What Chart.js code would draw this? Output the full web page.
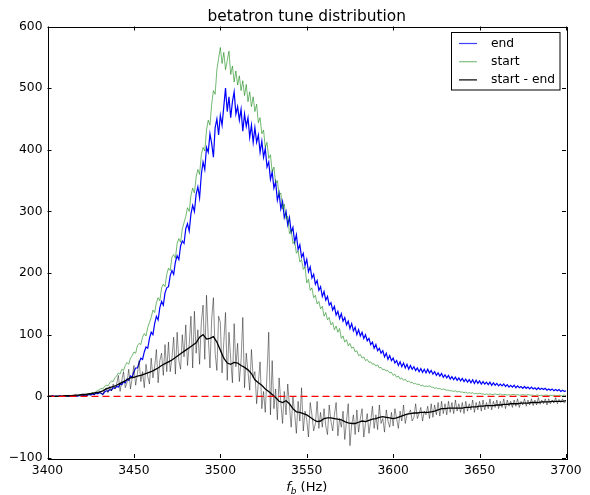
<!DOCTYPE html>
<html>
<head>
<meta charset="utf-8">
<script src="https://cdn.jsdelivr.net/npm/chart.js@4.4.0/dist/chart.umd.min.js"></script>
<style>
  body { margin: 0; background: #fff; }
</style>
</head>
<body>
<canvas id="chart" width="590" height="495"></canvas>
<script>
// frequency bins, 1 Hz (raw histograms)
const freq = [
  3400,3401,3402,3403,3404,3405,3406,3407,3408,3409,
  3410,3411,3412,3413,3414,3415,3416,3417,3418,3419,
  3420,3421,3422,3423,3424,3425,3426,3427,3428,3429,
  3430,3431,3432,3433,3434,3435,3436,3437,3438,3439,
  3440,3441,3442,3443,3444,3445,3446,3447,3448,3449,
  3450,3451,3452,3453,3454,3455,3456,3457,3458,3459,
  3460,3461,3462,3463,3464,3465,3466,3467,3468,3469,
  3470,3471,3472,3473,3474,3475,3476,3477,3478,3479,
  3480,3481,3482,3483,3484,3485,3486,3487,3488,3489,
  3490,3491,3492,3493,3494,3495,3496,3497,3498,3499,
  3500,3501,3502,3503,3504,3505,3506,3507,3508,3509,
  3510,3511,3512,3513,3514,3515,3516,3517,3518,3519,
  3520,3521,3522,3523,3524,3525,3526,3527,3528,3529,
  3530,3531,3532,3533,3534,3535,3536,3537,3538,3539,
  3540,3541,3542,3543,3544,3545,3546,3547,3548,3549,
  3550,3551,3552,3553,3554,3555,3556,3557,3558,3559,
  3560,3561,3562,3563,3564,3565,3566,3567,3568,3569,
  3570,3571,3572,3573,3574,3575,3576,3577,3578,3579,
  3580,3581,3582,3583,3584,3585,3586,3587,3588,3589,
  3590,3591,3592,3593,3594,3595,3596,3597,3598,3599,
  3600,3601,3602,3603,3604,3605,3606,3607,3608,3609,
  3610,3611,3612,3613,3614,3615,3616,3617,3618,3619,
  3620,3621,3622,3623,3624,3625,3626,3627,3628,3629,
  3630,3631,3632,3633,3634,3635,3636,3637,3638,3639,
  3640,3641,3642,3643,3644,3645,3646,3647,3648,3649,
  3650,3651,3652,3653,3654,3655,3656,3657,3658,3659,
  3660,3661,3662,3663,3664,3665,3666,3667,3668,3669,
  3670,3671,3672,3673,3674,3675,3676,3677,3678,3679,
  3680,3681,3682,3683,3684,3685,3686,3687,3688,3689,
  3690,3691,3692,3693,3694,3695,3696,3697,3698,3699,
  3700
];

// "end" distribution (blue)
const endVals = [
  0,0,0,1,0,0,0,1,0,0,
  0,1,0,0,1,0,1,0,1,1,
  1,2,1,2,3,2,4,3,5,4,
  6,5,3,7,9,8,11,10,14,13,
  16,15,20,19,24,22,28,26,33,31,
  40,46,46,54,62,60,72,80,78,94,
  104,100,118,130,124,144,154,148,168,176,
  178,196,204,198,218,228,222,244,252,248,
  272,280,268,296,310,300,328,340,322,360,
  380,368,404,396,426,410,388,436,450,424,
  456,440,470,500,462,486,452,478,494,458,
  470,448,466,430,458,438,452,420,440,412,
  436,412,424,396,414,388,402,372,380,352,
  364,338,348,318,330,304,316,290,300,278,
  290,266,274,250,262,238,246,226,232,212,
  222,202,210,192,198,182,188,172,178,162,
  170,156,162,148,152,140,146,132,138,126,
  134,122,128,116,122,110,118,106,112,100,
  108,98,104,94,100,90,94,84,88,78,
  84,74,78,70,74,64,70,60,66,58,
  62,54,58,50,56,48,54,46,52,44,
  50,44,48,42,46,40,45,39,44,38,
  44,38,42,36,40,34,38,33,37,31,
  35,30,34,28,32,27,31,26,30,25,
  29,24,28,23,27,22,27,21,26,21,
  25,20,24,20,23,19,23,18,22,18,
  21,17,20,17,20,16,19,15,18,15,
  18,14,17,14,16,13,16,13,15,12,
  15,12,14,11,14,11,13,11,13,10,
  12,10,12,9,11,9,11,8,10,8,
  9
];

// "start" distribution (green)
const startVals = [
  0,0,1,0,0,0,1,0,0,1,
  0,1,0,1,1,0,2,1,1,2,
  2,3,2,4,3,5,6,5,8,9,
  11,13,12,16,18,17,22,25,24,30,
  33,38,36,44,42,50,55,52,62,66,
  72,70,82,86,84,96,102,98,112,120,
  128,140,136,152,160,155,176,182,178,198,
  208,204,226,230,224,248,256,250,272,282,
  292,306,300,326,338,330,356,368,360,392,
  404,398,432,448,440,474,496,490,530,548,
  566,540,558,530,545,560,522,536,510,528,
  505,520,496,512,488,506,478,494,470,486,
  462,474,444,452,426,432,404,412,386,392,
  364,372,346,350,326,330,304,312,288,292,
  264,270,248,252,232,236,218,222,206,210,
  184,190,172,176,160,164,150,154,142,146,
  130,136,124,128,116,120,108,114,104,110,
  94,98,88,92,82,86,78,80,72,74,
  66,68,62,64,58,60,55,56,52,53,
  49,51,46,47,43,44,41,42,38,39,
  34,36,31,33,28,30,26,28,24,25,
  22,23,20,21,19,20,17,18,16,17,
  16,17,15,15,13,14,12,13,11,12,
  11,10,10,9,9,8,9,7,8,7,
  7,6,7,5,6,5,6,4,5,4,
  5,4,4,3,4,3,4,3,3,4,
  3,3,4,2,3,3,2,3,2,3,
  3,2,3,2,2,3,2,2,3,2,
  2,2,1,2,2,1,2,1,2,2,
  1,2,1,2,1,1,2,1,1,2,
  1
];

// start - end, raw (grey)
const diffVals = [
  0,0,1,0,0,1,0,0,1,0,
  1,0,1,2,0,1,2,1,2,3,
  3,2,4,1,5,3,6,2,7,4,
  9,5,3,10,14,6,16,9,20,12,
  20,34,8,26,40,14,22,44,12,30,
  50,18,36,58,24,40,14,52,32,20,
  62,30,48,76,22,58,70,34,84,40,
  88,40,62,96,36,104,58,44,100,64,
  116,50,84,130,46,138,70,108,52,120,
  148,60,164,96,46,126,160,70,42,130,
  120,38,88,136,26,104,60,22,118,48,
  86,24,58,128,14,70,40,10,76,30,
  40,-12,22,56,-20,8,-26,36,104,-30,
  58,-20,12,-38,30,-10,-44,8,-30,20,
  -16,-50,0,-28,-60,-8,-40,14,-56,-24,
  -38,-66,-10,-30,-56,-44,-8,-52,-26,-50,
  -20,-48,-62,-14,-40,-56,-30,-10,-64,-36,
  -50,-24,-70,-40,-12,-80,-46,-30,-62,-22,
  -58,-36,-20,-66,-44,-28,-60,-40,-16,-52,
  -30,-54,-14,-44,-36,-58,-22,-40,-50,-26,
  -48,-20,-36,-52,-24,-40,-14,-44,-30,-28,
  -22,-40,-34,-12,-36,-28,-18,-40,-24,-30,
  -16,-36,-12,-34,-14,-30,-10,-32,-8,-28,
  -12,-30,-8,-26,-10,-28,-6,-24,-12,-26,
  -10,-28,-8,-24,-12,-22,-6,-26,-10,-22,
  -8,-24,-6,-22,-10,-20,-4,-22,-8,-18,
  -6,-20,-8,-18,-4,-20,-6,-16,-8,-18,
  -6,-16,-4,-18,-8,-14,-4,-16,-6,-14,
  -4,-15,-6,-14,-2,-13,-6,-12,-4,-14,
  -4,-12,-6,-11,-2,-12,-5,-10,-4,-11,
  -8
];

// frequency bins, 2 Hz (smoothed difference)
const freqCoarse = [
  3400,3402,3404,3406,3408,3410,3412,3414,3416,3418,
  3420,3422,3424,3426,3428,3430,3432,3434,3436,3438,
  3440,3442,3444,3446,3448,3450,3452,3454,3456,3458,
  3460,3462,3464,3466,3468,3470,3472,3474,3476,3478,
  3480,3482,3484,3486,3488,3490,3492,3494,3496,3498,
  3500,3502,3504,3506,3508,3510,3512,3514,3516,3518,
  3520,3522,3524,3526,3528,3530,3532,3534,3536,3538,
  3540,3542,3544,3546,3548,3550,3552,3554,3556,3558,
  3560,3562,3564,3566,3568,3570,3572,3574,3576,3578,
  3580,3582,3584,3586,3588,3590,3592,3594,3596,3598,
  3600,3602,3604,3606,3608,3610,3612,3614,3616,3618,
  3620,3622,3624,3626,3628,3630,3632,3634,3636,3638,
  3640,3642,3644,3646,3648,3650,3652,3654,3656,3658,
  3660,3662,3664,3666,3668,3670,3672,3674,3676,3678,
  3680,3682,3684,3686,3688,3690,3692,3694,3696,3698,
  3700
];

// start - end, smoothed (black)
const diffSmooth = [
  0,0,0,0,0,1,1,1,2,2,
  3,3,4,5,6,7,9,12,14,16,
  18,21,24,27,30,31,33,34,36,38,
  40,43,46,50,53,56,59,63,67,71,
  75,79,83,87,96,100,93,94,97,88,
  75,62,54,52,55,54,50,47,43,37,
  27,22,18,12,8,3,-2,-8,-10,-7,
  -12,-20,-25,-26,-28,-30,-34,-38,-41,-40,
  -36,-35,-35,-36,-37,-38,-41,-43,-44,-44,
  -42,-40,-41,-39,-37,-36,-34,-33,-34,-35,
  -36,-35,-33,-31,-29,-28,-27,-27,-26,-26,
  -26,-25,-24,-22,-20,-20,-19,-19,-19,-19,
  -19,-18,-18,-17,-17,-16,-16,-15,-15,-15,
  -14,-14,-13,-13,-12,-12,-12,-11,-11,-11,
  -10,-10,-10,-9,-9,-9,-8,-8,-8,-8,
  -7
];

const xTicks = [3400, 3450, 3500, 3550, 3600, 3650, 3700];
const yTicks = [-100, 0, 100, 200, 300, 400, 500, 600];
const zeroLine = [0, 0];

const FONT = '"DejaVu Sans", "Liberation Sans", sans-serif';

function pts(xs, ys) {
  return xs.map((f, i) => ({ x: f, y: ys[i] }));
}

// legend entries drawn inside the axes, like matplotlib
const legendItems = [
  { text: "end", color: "rgba(0,0,255,0.75)" },
  { text: "start", color: "rgba(0,128,0,0.5)" },
  { text: "start - end", color: "#000" }
];

const decorPlugin = {
  id: "decor",
  afterDraw(chart) {
    const ctx = chart.ctx;
    const a = chart.chartArea;
    const xs = chart.scales.x;
    const ys = chart.scales.y;
    ctx.save();

    // inward ticks on all four sides
    ctx.strokeStyle = "#000";
    ctx.lineWidth = 1;
    ctx.beginPath();
    xTicks.forEach(v => {
      const px = Math.round(xs.getPixelForValue(v)) + 0.5;
      ctx.moveTo(px, a.bottom); ctx.lineTo(px, a.bottom - 4);
      ctx.moveTo(px, a.top); ctx.lineTo(px, a.top + 4);
    });
    yTicks.forEach(v => {
      const py = Math.round(ys.getPixelForValue(v)) + 0.5;
      ctx.moveTo(a.left, py); ctx.lineTo(a.left + 4, py);
      ctx.moveTo(a.right, py); ctx.lineTo(a.right - 4, py);
    });
    ctx.stroke();

    // frame
    ctx.strokeRect(Math.round(a.left) + 0.5, Math.round(a.top) + 0.5,
      Math.round(a.right - a.left), Math.round(a.bottom - a.top));

    // title
    const cx = (a.left + a.right) / 2;
    ctx.fillStyle = "#000";
    ctx.font = "15.4px " + FONT;
    ctx.textAlign = "center";
    ctx.textBaseline = "middle";
    ctx.fillText("betatron tune distribution", cx, 17);

    // x axis label: f_b (Hz)
    const mainFont = "13px " + FONT;
    const italFont = "italic 13px " + FONT;
    const subFont = "italic 9px " + FONT;
    ctx.font = italFont;
    const wf = ctx.measureText("f").width;
    ctx.font = subFont;
    const wb = ctx.measureText("b").width;
    ctx.font = mainFont;
    const wh = ctx.measureText(" (Hz)").width;
    let tx = cx - (wf + wb + wh) / 2;
    ctx.textAlign = "left";
    ctx.textBaseline = "alphabetic";
    const base = 491;
    ctx.font = italFont; ctx.fillText("f", tx, base); tx += wf;
    ctx.font = subFont; ctx.fillText("b", tx, base + 2.5); tx += wb;
    ctx.font = mainFont; ctx.fillText(" (Hz)", tx, base);

    // legend box
    const lx = 451.5, ly = 32.5, lw = 108.5, lh = 57.5;
    ctx.fillStyle = "#fff";
    ctx.fillRect(lx, ly, lw, lh);
    ctx.strokeStyle = "#000";
    ctx.strokeRect(lx, ly, lw, lh);
    ctx.font = "12.3px " + FONT;
    ctx.textBaseline = "middle";
    legendItems.forEach((it, i) => {
      const y = 43.5 + i * 18.2;
      ctx.strokeStyle = it.color;
      ctx.lineWidth = 1.2;
      ctx.beginPath();
      ctx.moveTo(459, y); ctx.lineTo(477, y);
      ctx.stroke();
      ctx.fillStyle = "#000";
      ctx.fillText(it.text, 491, y);
    });
    ctx.restore();
  }
};

const ctx = document.getElementById("chart").getContext("2d");

new Chart(ctx, {
  type: "line",
  data: {
    datasets: [
      {
        label: "zero",
        data: [{ x: xTicks[0], y: zeroLine[0] }, { x: xTicks[xTicks.length - 1], y: zeroLine[1] }],
        borderColor: "#ff0000",
        borderWidth: 1.2,
        borderDash: [7, 4],
        pointRadius: 0,
        order: 0
      },
      {
        label: "start - end",
        data: pts(freqCoarse, diffSmooth),
        borderColor: "#000",
        borderWidth: 1.3,
        pointRadius: 0,
        order: 1
      },
      {
        label: "start - end raw",
        data: pts(freq, diffVals),
        borderColor: "rgba(0,0,0,0.45)",
        borderWidth: 1,
        pointRadius: 0,
        order: 2
      },
      {
        label: "start",
        data: pts(freq, startVals),
        borderColor: "rgba(0,128,0,0.55)",
        borderWidth: 1,
        pointRadius: 0,
        order: 3
      },
      {
        label: "end",
        data: pts(freq, endVals),
        borderColor: "#0000ff",
        borderWidth: 1.2,
        pointRadius: 0,
        order: 4
      }
    ]
  },
  options: {
    responsive: false,
    animation: false,
    devicePixelRatio: 1,
    layout: { padding: { top: 26.5, right: 24, bottom: 0, left: 0 } },
    elements: { line: { tension: 0, fill: false } },
    plugins: {
      legend: { display: false },
      title: { display: false },
      tooltip: { enabled: false }
    },
    scales: {
      x: {
        type: "linear",
        min: 3400,
        max: 3700,
        grid: { display: false, drawTicks: false },
        border: { display: false },
        afterBuildTicks: s => { s.ticks = xTicks.map(v => ({ value: v })); },
        afterFit: s => { s.height = 37; },
        ticks: {
          autoSkip: false,
          maxRotation: 0,
          padding: 5,
          color: "#000",
          font: { family: FONT, size: 12.3 },
          callback: v => String(v)
        }
      },
      y: {
        min: -100,
        max: 600,
        grid: { display: false, drawTicks: false },
        border: { display: false },
        afterBuildTicks: s => { s.ticks = yTicks.map(v => ({ value: v })); },
        afterFit: s => { s.width = 47.5; },
        ticks: {
          padding: 5,
          color: "#000",
          font: { family: FONT, size: 12.3 },
          callback: v => (v < 0 ? "\u2212" + Math.abs(v) : String(v))
        }
      }
    }
  },
  plugins: [decorPlugin]
});
</script>
</body>
</html>
